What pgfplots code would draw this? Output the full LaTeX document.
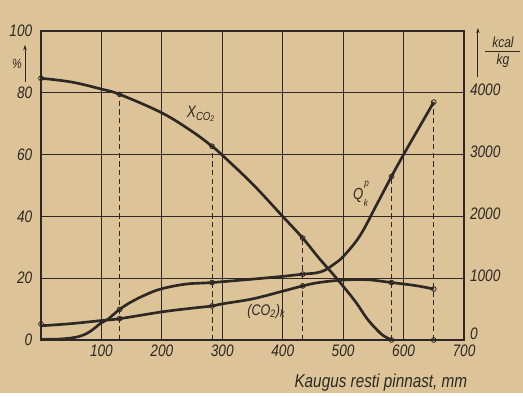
\documentclass[border=0pt]{standalone}
\usepackage{pgfplots}
\pgfplotsset{compat=1.18}
\usepackage{fontspec}
\setmainfont{Liberation Sans}[FakeStretch=0.82]
\usetikzlibrary{backgrounds,arrows.meta}
\definecolor{paper}{RGB}{221,196,152}
\definecolor{ink}{RGB}{45,40,35}
\begin{document}
\begin{tikzpicture}
\pgfplotsset{
 base/.style={scale only axis, width=317.25pt, height=231.75pt, xmin=0, xmax=700,
   /pgf/number format/assume math mode=true, /pgf/number format/1000 sep={},
   ticklabel style={font=\fontsize{12.5}{13}\selectfont\itshape, text=ink},
   tick style={draw=none}, axis line style={ink, line width=0.8pt}},
 curve/.style={ink, line width=2pt, smooth, tension=0.6, no marks},
 pts/.style={only marks, mark=o, mark size=1.8pt, mark options={draw=ink, fill=paper, line width=0.6pt}},
 dash/.style={ink, line width=0.7pt, dash pattern=on 4pt off 2.5pt, no marks},
}
\begin{axis}[base, ymin=0, ymax=100,
  xtick={100,200,...,700}, ytick={0,20,...,100},
  yticklabels={\raisebox{-3pt}{0},20,40,60,80,100},
  grid=major, grid style={ink, line width=0.6pt},
  clip=false, yticklabel style={xshift=-3pt},
  xlabel={Kaugus resti pinnast, mm},
  x label style={at={(axis description cs:0.8035,-0.155)}, anchor=base,
     font=\fontsize{14}{15}\selectfont\itshape, text=ink}]
% dashed verticals
\addplot[dash] coordinates {(130,0) (130,79.5)};
\addplot[dash] coordinates {(283,0) (283,62.7)};
\addplot[dash] coordinates {(433,0) (433,33)};
% X_CO2
\addplot[curve] coordinates {(0,84.7) (50,83.5) (100,81.2) (130,79.5) (200,73.5) (250,67.5) (283,62.7) (300,59.8) (350,50.5) (400,40) (433,33) (460,26.5) (489,20) (520,12.5) (540,6.8) (560,2.5) (570,1.0) (580,0)};
% (CO2)_K
\addplot[curve] coordinates {(0,4.6) (50,5.3) (100,6.3) (130,6.9) (200,9.1) (250,10.3) (283,11) (300,11.7) (350,13.3) (400,15.8) (433,17.5) (460,18.6) (500,19.4) (540,19.5) (580,18.6) (620,17.6) (650,16.5)};
\addplot[pts] coordinates {(0,84.7) (130,79.5) (283,62.7) (433,33) (580,0) (650,0)};
\addplot[pts] coordinates {(0,5.2) (130,6.9) (283,11) (433,17.5) (580,18.6) (650,16.5)};
% labels
\node[anchor=base west, font=\fontsize{12.5}{13}\selectfont\itshape, text=ink, inner sep=0pt] at (axis cs:241,72) {X\textsubscript{CO\textsubscript{2}}};
\node[anchor=base west, font=\fontsize{11.5}{12}\selectfont\itshape, text=ink, inner sep=0pt] at (axis cs:341,8) {(CO\textsubscript{2})\textsubscript{k}};
\node[anchor=base west, font=\fontsize{12}{13}\selectfont\itshape, text=ink, inner sep=0pt] (Q) at (axis cs:516,45.5) {Q};
\node[anchor=south west, font=\fontsize{7.5}{8}\selectfont\itshape, text=ink, inner sep=0pt] at ([xshift=0.4pt,yshift=-1pt]Q.north east) {p};
\node[anchor=north west, font=\fontsize{7.5}{8}\selectfont\itshape, text=ink, inner sep=0pt] at ([yshift=2.5pt]Q.south east) {k};
% units
\node[font=\fontsize{10}{11}\selectfont\itshape, text=ink] at (axis cs:-39.7,89.3) {\%};
\draw[ink, line width=0.6pt, -{Stealth[length=4pt,width=2.6pt]}] (axis cs:-26.5,83.5) -- (axis cs:-26.5,95.5);
\draw[ink, line width=0.6pt, -{Stealth[length=4pt,width=2.6pt]}] (axis cs:723,85.1) -- (axis cs:723,101);
\node[font=\fontsize{11}{12}\selectfont\itshape, text=ink, anchor=base] at (axis cs:764.5,94.6) {kcal};
\draw[ink, line width=0.6pt] (axis cs:735,93.4) -- (axis cs:792,93.4);
\node[font=\fontsize{11}{12}\selectfont\itshape, text=ink, anchor=base] at (axis cs:764.5,89.2) {kg};
\end{axis}
\begin{axis}[base, ymin=0, ymax=5000, axis y line*=right, axis x line=none,
  ytick={0,1000,...,4000}, yticklabels={\raisebox{5pt}{0},1000,2000,3000,4000},
  yticklabel style={xshift=1pt, yshift=2pt}]
\addplot[dash] coordinates {(580,0) (580,2645)};
\addplot[dash] coordinates {(650,0) (650,3850)};
\addplot[curve] coordinates {(0,15) (30,15) (60,50) (80,130) (100,280) (110,330) (130,495) (150,620) (175,740) (200,830) (240,905) (283,930) (350,985) (400,1030) (433,1065) (455,1085) (470,1130) (483,1215) (500,1350) (528,1690) (556,2200) (580,2645) (600,3000) (650,3850)};
\addplot[pts] coordinates {(130,495) (283,930) (433,1065) (580,2645) (650,3850)};
\end{axis}
\begin{scope}[on background layer]
\fill[paper] (-30.75pt,-39.75pt) rectangle (361.5pt,255pt);
\end{scope}
\end{tikzpicture}
\end{document}
